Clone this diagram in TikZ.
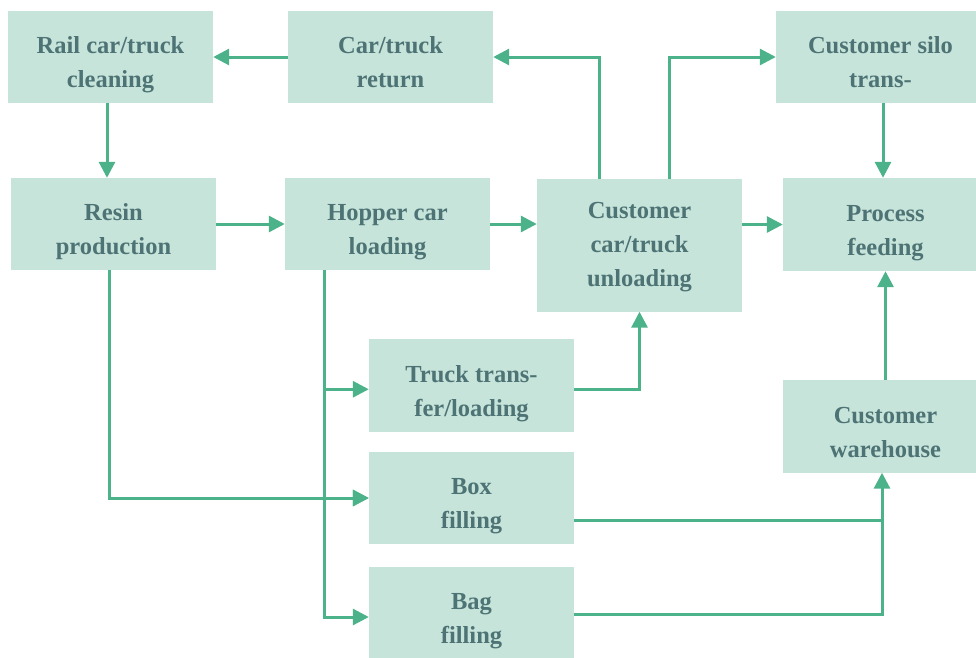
\documentclass[tikz,border=0pt]{standalone}
\usepackage{fontspec}
\setmainfont{Liberation Serif}
\usetikzlibrary{arrows.meta}
\definecolor{boxfill}{RGB}{198,228,218}
\definecolor{arrowc}{RGB}{75,178,138}
\definecolor{textc}{RGB}{77,115,117}
\newcommand\ltext[2][-7pt]{\raisebox{#1}[\height][\depth]{\begin{tabular}{@{}c@{}}#2\end{tabular}}}
\begin{document}
\begin{tikzpicture}[x=1pt,y=-1pt,
  proc/.style={rectangle,fill=boxfill,draw=none,inner sep=0pt,minimum width=205pt,minimum height=92pt,
    text=textc,font=\bfseries\fontsize{24.5}{34}\selectfont},
  arr/.style={draw=arrowc,line width=3pt,-{Triangle[length=16pt,width=16pt]}},
  plain/.style={draw=arrowc,line width=3pt}]
\useasboundingbox (0,0) rectangle (976,657);
\node[proc] (rail) at (110.5,57) {\ltext{Rail car/truck\\cleaning}};
\node[proc] (ret) at (390.5,57) {\ltext{Car/truck\\return}};
\node[proc,minimum width=209pt] (silo) at (880.5,57) {\ltext{Customer silo\\trans-}};
\node[proc] (resin) at (113.5,224) {\ltext{Resin\\production}};
\node[proc] (hopper) at (387.5,224) {\ltext{Hopper car\\loading}};
\node[proc,minimum height=132.5pt] (unl) at (639.5,245.25) {\ltext[0pt]{Customer\\car/truck\\unloading}};
\node[proc,minimum height=93pt] (pfeed) at (885.5,224.5) {\ltext{Process\\feeding}};
\node[proc,minimum height=92.5pt] (truck) at (471.5,385.25) {\ltext{Truck trans-\\fer/loading}};
\node[proc] (boxf) at (471.5,498) {\ltext{Box\\filling}};
\node[proc] (bagf) at (471.5,613) {\ltext{Bag\\filling}};
\node[proc,minimum height=92.5pt] (ware) at (885.5,426.25) {\ltext{Customer\\warehouse}};
% connectors
\coordinate (rsouth) at ([xshift=-3.5pt]rail.south);
\coordinate (pn) at ([xshift=-2.5pt]pfeed.north);
\coordinate (rs) at ([xshift=-4.5pt]resin.south);
\coordinate (hs) at ([xshift=40pt]hopper.south west);
\coordinate (tw) at ([yshift=-4pt]truck.west);
\coordinate (bw) at ([yshift=-4pt]bagf.west);
\coordinate (ul) at ([xshift=-40.5pt]unl.north);
\coordinate (ur) at ([xshift=29.5pt]unl.north);
\coordinate (wb) at ([xshift=-3.5pt]ware.south);
\coordinate (be) at ([yshift=-22pt]boxf.east);
\coordinate (ge) at ([yshift=-1pt]bagf.east);
\coordinate (te) at ([yshift=-4.5pt]truck.east);
\draw[arr] (ret.west) -- (rail.east);
\draw[arr] (rsouth) -- (rsouth |- resin.north);
\draw[arr] (resin.east) -- (resin.east -| hopper.west);
\draw[arr] (hopper.east) -- (hopper.east -| unl.west);
\draw[arr] (pfeed.west -| unl.east) -- (pfeed.west);
\draw[arr] (ul) |- (ret.east);
\draw[arr] (ur) |- (silo.west);
\draw[arr] (silo.south -| pn) -- (pn);
\draw[arr] (ware.north) -- (pfeed.south);
\draw[arr] (rs) |- (boxf.west);
\draw[arr] (hs) |- (bw);
\draw[arr] (hs |- tw) -- (tw);
\draw[arr] (hs |- boxf.west) -- (boxf.west);
\draw[arr] (te) -| (unl.south);
\draw[arr] (be) -| (wb);
\draw[plain] (ge) -| (be -| wb);
\end{tikzpicture}
\end{document}
